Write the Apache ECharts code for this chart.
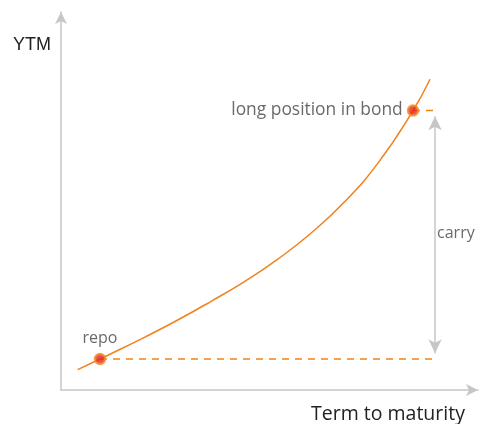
<!DOCTYPE html>
<html><head><meta charset="utf-8">
<script src="https://cdn.jsdelivr.net/npm/echarts@6/dist/echarts.min.js"></script>
<style>html,body{margin:0;padding:0;background:#fff}#c{width:480px;height:424px}</style>
</head><body><div id="c"></div>
<script>
// Yield curve (schematic, normalized units 0..100)
const curveX = [4, 12, 20, 28, 36, 44, 52, 60, 68, 76, 84, 88.5];
const curveY = [5.40, 9.60, 13.94, 18.52, 23.47, 28.68, 34.63, 41.53, 49.79, 60.03, 73.15, 82.22];
const pointNames = ['repo', 'long position in bond'];
const pointX = [9.35, 84.41];
const pointY = [8.2, 73.94];
const dashEndX = 89.5;
const carryX = 89.7;
const carryLabel = 'carry';
const xTitle = 'Term to maturity';
const yTitle = 'YTM';

const chart = echarts.init(document.getElementById('c'));
const orange = '#f0821e';
const gray = '#c6c6c6';
const txt = '#444';
const font = '"Open Sans", sans-serif';

chart.setOption({
  animation: false,
  title: [
    {text: yTitle, left: 8, top: 31, textStyle: {fontFamily: 'Liberation Sans, Arial, sans-serif', fontSize: 18, fontWeight: 'normal', color: '#222'}},
    {text: xTitle, left: 306, top: 399, textStyle: {fontFamily: font, fontSize: 19.5, fontWeight: 'normal', color: '#222'}}
  ],
  grid: {left: 61, right: 2, top: 12, bottom: 34},
  xAxis: {type: 'value', min: 0, max: 100, splitLine: {show: false}, axisTick: {show: false}, axisLabel: {show: false},
    axisLine: {lineStyle: {color: gray, width: 1.5}, symbol: ['none', 'arrow'], symbolSize: [9, 12]}},
  yAxis: {type: 'value', min: 0, max: 100, splitLine: {show: false}, axisTick: {show: false}, axisLabel: {show: false},
    axisLine: {lineStyle: {color: gray, width: 1.5}, symbol: ['none', 'arrow'], symbolSize: [9, 12]}},
  series: [
    {type: 'line', smooth: true, showSymbol: false, z: 3,
      data: curveX.map((x, i) => [x, curveY[i]]),
      lineStyle: {color: orange, width: 1.5}},
    {type: 'line', showSymbol: false, z: 2,
      data: [[pointX[0], pointY[0]], [dashEndX, pointY[0]]],
      lineStyle: {color: orange, width: 1.5, type: [7, 6]}},
    {type: 'line', showSymbol: false, z: 2,
      data: [[pointX[1], pointY[1]], [dashEndX, pointY[1]]],
      lineStyle: {color: orange, width: 1.5, type: [7, 6]}},
    {type: 'scatter', symbolSize: 0, z: 2,
      data: [{value: [carryX, 41.5], label: {show: true, position: 'right', distance: 2, formatter: carryLabel}}],
      label: {fontFamily: font, fontSize: 16, color: txt},
      markLine: {silent: true, symbol: ['arrow', 'arrow'], symbolSize: [10, 14], label: {show: false},
        lineStyle: {color: gray, width: 1.5, type: 'solid'},
        data: [[{coord: [carryX, pointY[0] + 1.5]}, {coord: [carryX, pointY[1] - 1.5]}]]}},
    {type: 'scatter', z: 5, symbol: 'circle', symbolSize: 10,
      itemStyle: {color: '#e2261f', borderColor: '#f58a2a', borderWidth: 2.5},
      data: [
        {value: [pointX[0], pointY[0]], label: {show: true, position: 'top', distance: 6, formatter: pointNames[0]}},
        {value: [pointX[1], pointY[1]], label: {show: true, position: 'left', distance: 4, fontSize: 17.4, formatter: pointNames[1]}}
      ],
      label: {fontFamily: font, fontSize: 16, color: txt}}
  ]
});
</script></body></html>
